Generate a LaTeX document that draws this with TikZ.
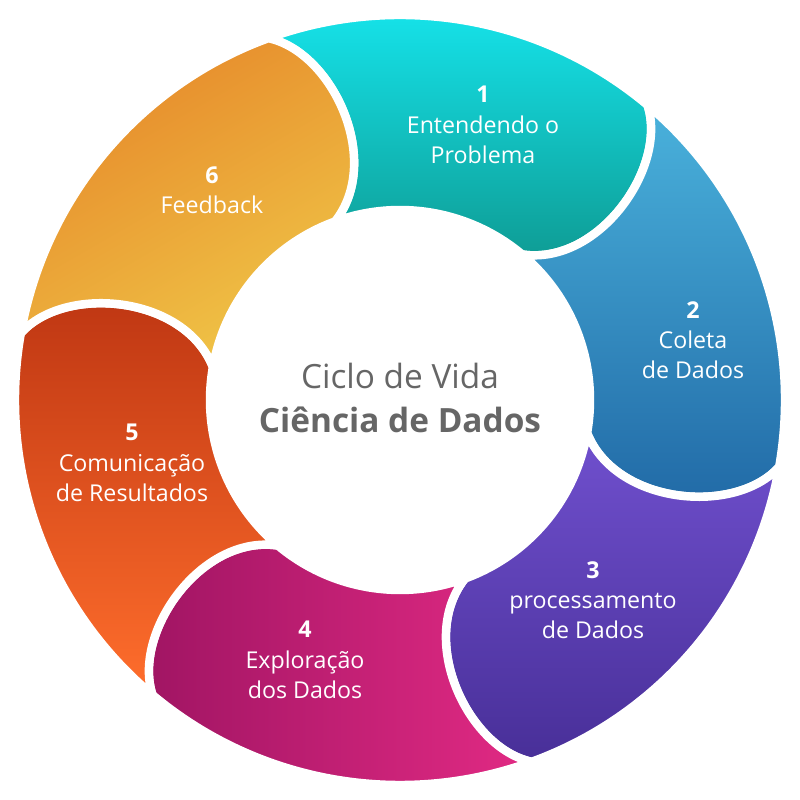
\documentclass[tikz,border=0pt]{standalone}
\usepackage{fontspec}
\setmainfont{Open Sans}
\definecolor{c1a}{HTML}{16E8F0}\definecolor{c1b}{HTML}{0E9A92}
\definecolor{c2a}{HTML}{4AB2DC}\definecolor{c2b}{HTML}{2068A5}
\definecolor{c3a}{HTML}{7050CE}\definecolor{c3b}{HTML}{482F98}
\definecolor{c4a}{HTML}{9E1462}\definecolor{c4b}{HTML}{E22A84}
\definecolor{c5a}{HTML}{BD3512}\definecolor{c5b}{HTML}{FF6E2C}
\definecolor{c6a}{HTML}{F0C748}\definecolor{c6b}{HTML}{E6882A}
\begin{document}
\begin{tikzpicture}
\useasboundingbox (0,0) rectangle (8,8);
\def\R{3.85}\def\r{1.9}
\newcommand{\seg}[3]{%
 \path[#3,draw=white,line width=2.4pt,shift={(4,4)}] (#1:\R) arc[start angle=#1,end angle=#2,radius=\R]
 .. controls ({#2-9}:{\R-0.3}) and ({#2-16}:{\r+0.5}) .. (#2:\r)
 arc[start angle=#2,end angle=#1,radius=\r]
 .. controls ({#1-16}:{\r+0.5}) and ({#1-9}:{\R-0.3}) .. cycle;}
\seg{110}{50}{top color=c1a,bottom color=c1b}
\seg{50}{-10}{top color=c2a,bottom color=c2b}
\seg{-10}{-70}{top color=c3a,bottom color=c3b}
\seg{-70}{-130}{left color=c4a,right color=c4b}
\seg{-130}{-190}{top color=c5a,bottom color=c5b}
\seg{170}{110}{bottom color=c6a,top color=c6b,shading angle=30}
\tikzset{lbl/.style={text=white,font=\fontsize{6.6}{8.6}\selectfont,align=center}}
\node[lbl] (t1) at (4.83,6.75) {\textbf{1}\\Entendendo o\\Problema};
\node[lbl] (t2) at (6.93,4.6) {\textbf{2}\\Coleta\\de Dados};
\node[lbl] (t3) at (5.93,2.0) {\textbf{3}\\processamento\\de Dados};
\node[lbl] (t4) at (3.05,1.4) {\textbf{4}\\Exploração\\dos Dados};
\node[lbl] (t5) at (1.32,3.37) {\textbf{5}\\Comunicação\\de Resultados};
\node[lbl] (t6) at (2.12,6.1) {\textbf{6}\\Feedback};
\node[text=black!60,font=\fontsize{9.5}{12.5}\selectfont,align=center] (c) at (4,4.02) {Ciclo de Vida\\\textbf{Ciência de Dados}};
\end{tikzpicture}
\end{document}
